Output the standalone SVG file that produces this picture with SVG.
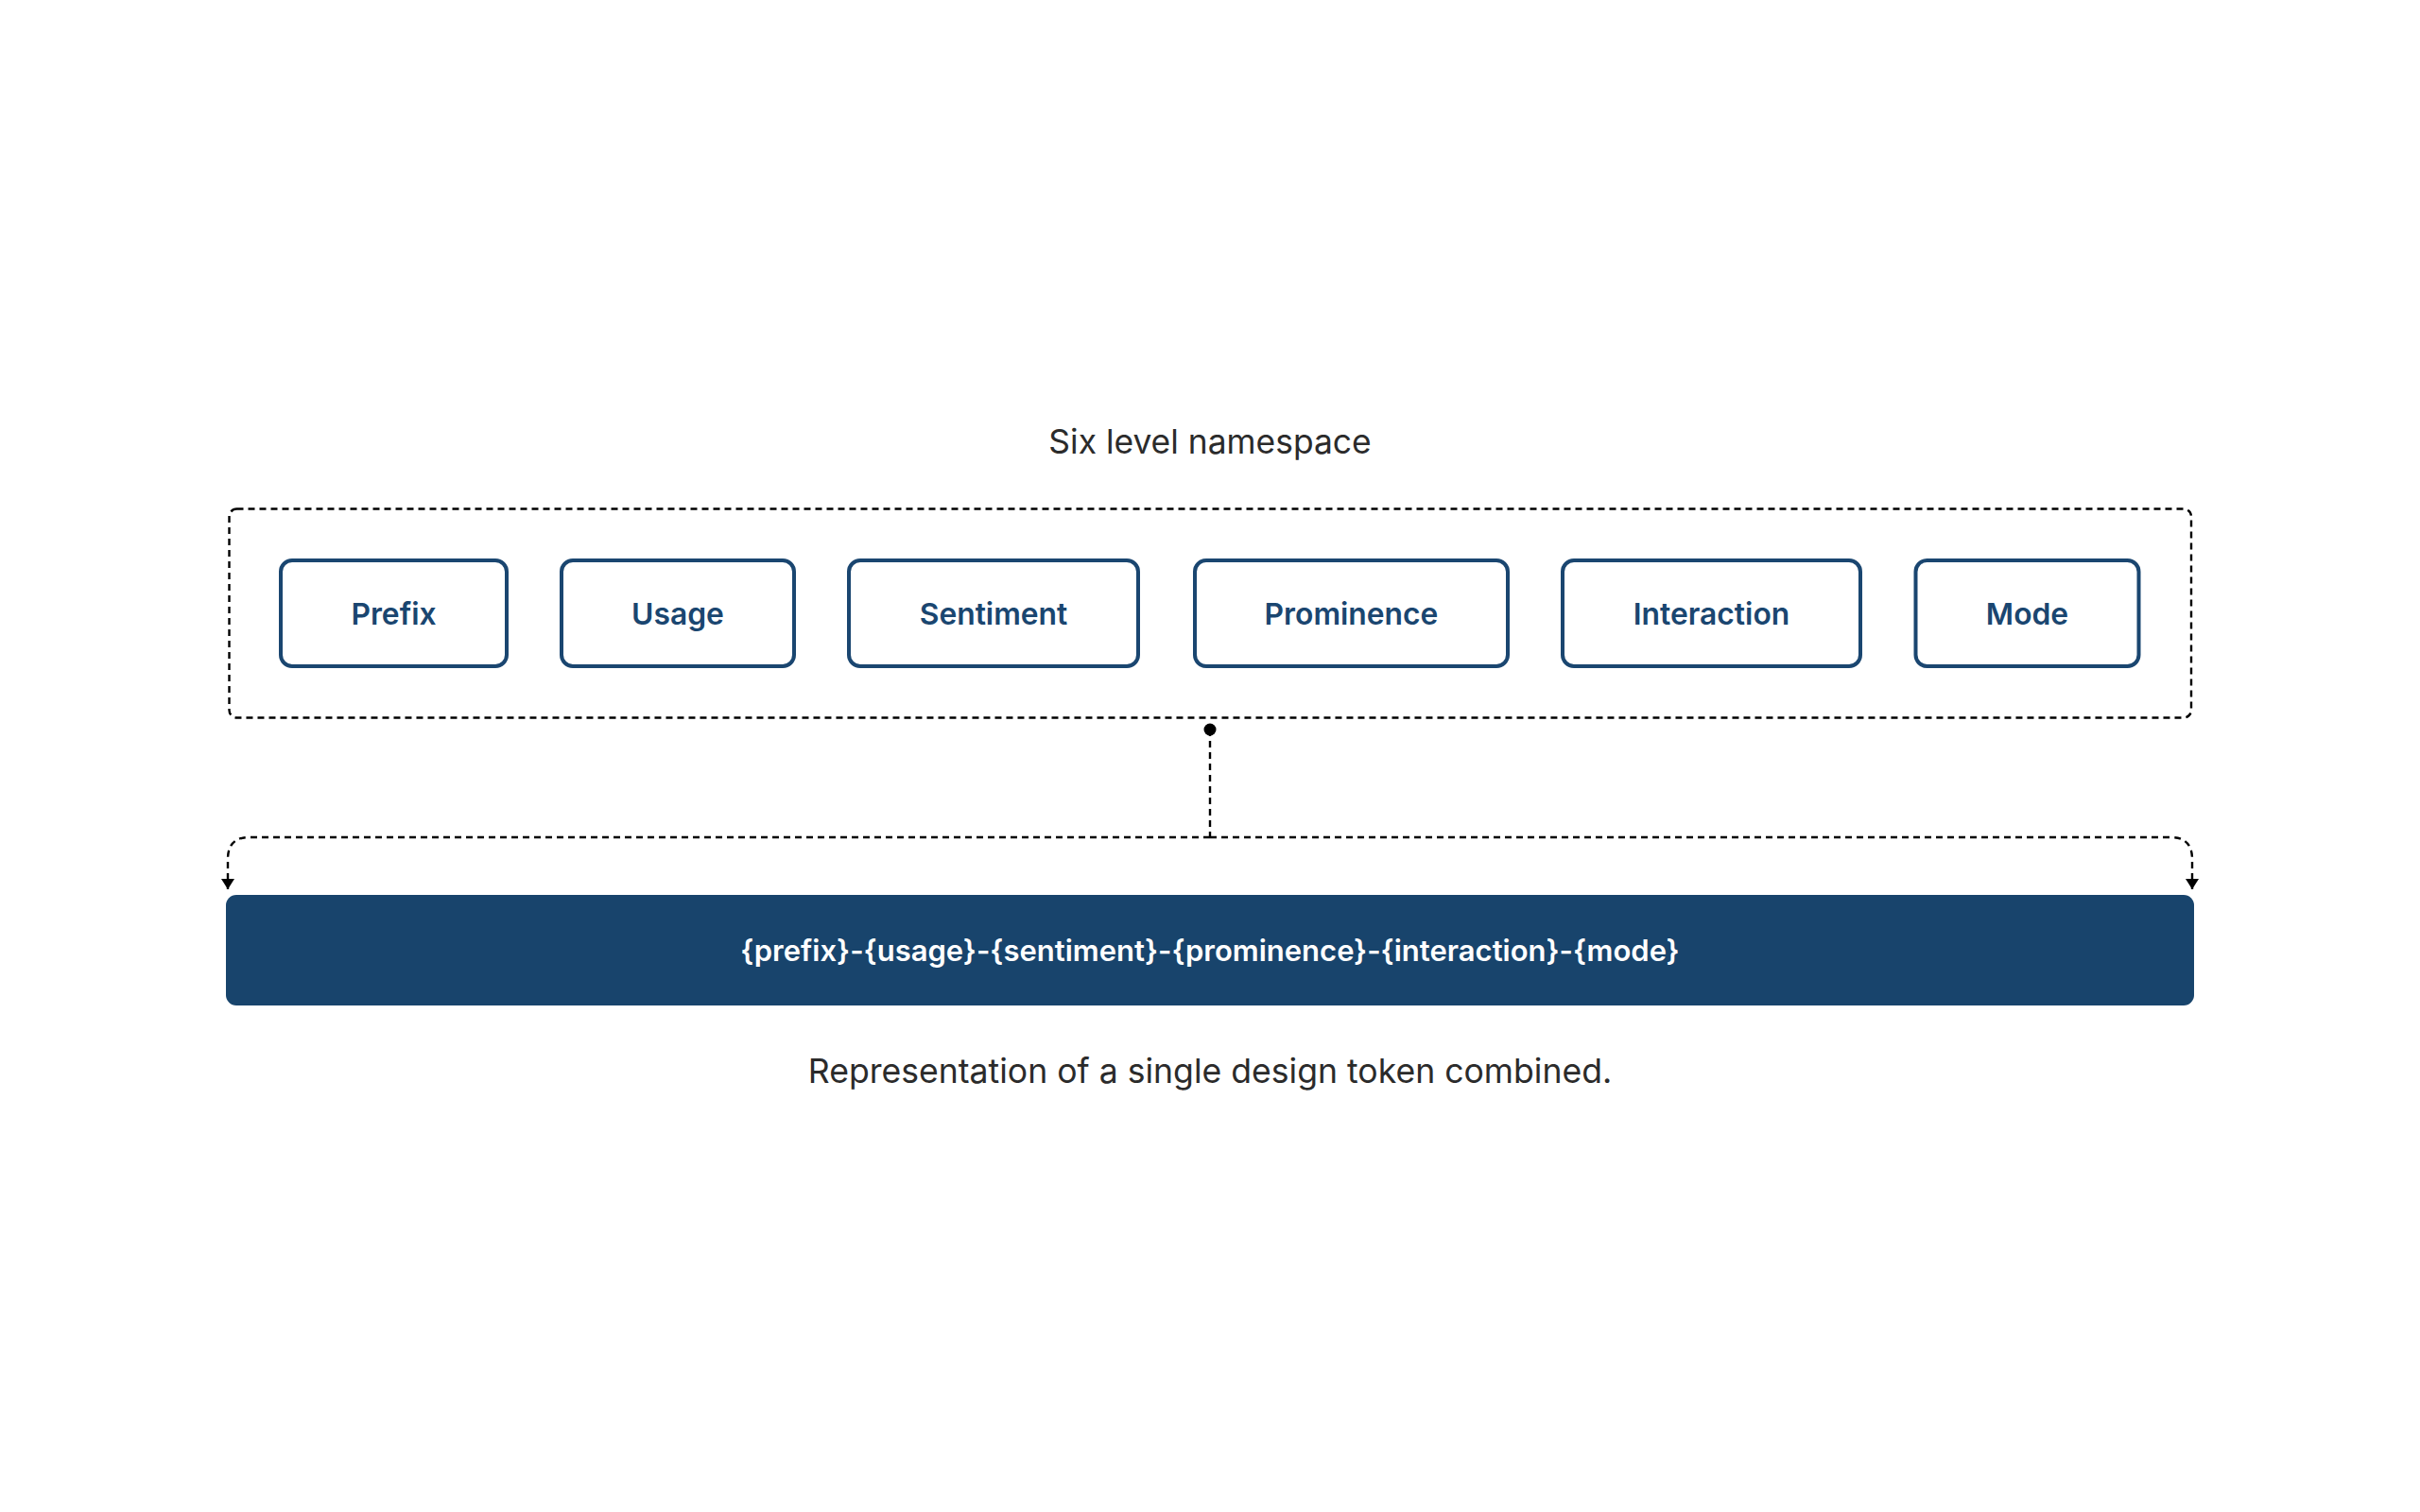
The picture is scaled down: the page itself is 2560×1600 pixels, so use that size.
<svg xmlns="http://www.w3.org/2000/svg" width="2560" height="1600" viewBox="0 0 2560 1600">
<defs>
<style>
.node{fill:#ffffff;stroke:#1a4670;stroke-width:4}
.nlabel{font-family:Inter,"Noto Sans","Liberation Sans",sans-serif;font-size:31.8px;font-weight:600;fill:#1a4670;text-anchor:middle}
.caption{font-family:Inter,"Noto Sans","Liberation Sans",sans-serif;font-weight:400;fill:#2b2b2b;text-anchor:middle}
.dash{fill:none;stroke:#000000;stroke-width:2.4;stroke-dasharray:7 5}
</style>
<marker id="arrow" markerUnits="userSpaceOnUse" markerWidth="12" markerHeight="14" viewBox="0 0 12 14" refX="11" refY="7" orient="auto">
<path d="M0 0 L11 7 L0 14 Z" fill="#000000"/>
</marker>
</defs>
<rect width="2560" height="1600" fill="#ffffff"/>
<text id="title" class="caption" x="1280" y="480" font-size="35.4">Six level namespace</text>
<g id="namespace">
<rect class="dash" x="242.5" y="538.5" width="2075.5" height="221" rx="8"/>
</g>
<g id="prefix"><rect class="node" x="297" y="593" width="239" height="112" rx="12"/><text class="nlabel" x="416.5" y="661">Prefix</text></g>
<g id="usage"><rect class="node" x="594" y="593" width="246" height="112" rx="12"/><text class="nlabel" x="717" y="661">Usage</text></g>
<g id="sentiment"><rect class="node" x="898" y="593" width="306" height="112" rx="12"/><text class="nlabel" x="1051" y="661">Sentiment</text></g>
<g id="prominence"><rect class="node" x="1264" y="593" width="331" height="112" rx="12"/><text class="nlabel" x="1429.5" y="661">Prominence</text></g>
<g id="interaction"><rect class="node" x="1653" y="593" width="315" height="112" rx="12"/><text class="nlabel" x="1810.5" y="661">Interaction</text></g>
<g id="mode"><rect class="node" x="2026.5" y="593" width="236" height="112" rx="12"/><text class="nlabel" x="2144.5" y="661">Mode</text></g>
<g id="connectors">
<circle cx="1280" cy="772" r="6.5" fill="#000000"/>
<path class="dash" d="M1280 772 V886"/>
<path class="dash" d="M1280 886 H264 Q241 886 241 909 V941" marker-end="url(#arrow)"/>
<path class="dash" d="M1280 886 H2296 Q2319 886 2319 909 V941" marker-end="url(#arrow)"/>
</g>
<g id="token">
<rect x="239" y="947" width="2082" height="117" rx="11" fill="#18446c"/>
<text x="1280" y="1017" font-family="Inter,'Noto Sans','Liberation Sans',sans-serif" font-size="31" font-weight="600" fill="#ffffff" text-anchor="middle">{prefix}-{usage}-{sentiment}-{prominence}-{interaction}-{mode}</text>
</g>
<text id="caption" class="caption" x="1280" y="1146" font-size="35.6">Representation of a single design token combined.</text>
</svg>
